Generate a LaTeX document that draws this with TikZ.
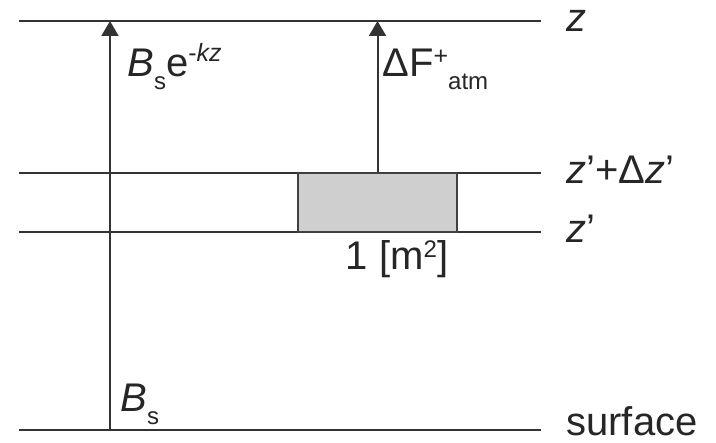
\documentclass[tikz,border=0pt]{standalone}
\usepackage{fontspec}
\setmainfont{Liberation Sans}
\usepackage{tikz}
\usetikzlibrary{arrows.meta, positioning}

\newcommand{\lowtxt}[1]{\raisebox{-6.5pt}{\fontsize{12}{12}\selectfont #1}}
\newcommand{\hightxt}[1]{\raisebox{7.5pt}{\fontsize{12.5}{12}\selectfont #1}}

\begin{document}
\begin{tikzpicture}[
        x=0.5pt, y=0.5pt,
        >={Triangle[width=8.5pt,length=7.5pt]},
        level/.style={draw=black!80, line width=1.1pt},
        flux/.style={->, draw=black!80, line width=1pt},
        lbl/.style={inner sep=0pt, font=\fontsize{20}{24}\selectfont, text=black!85},
        cell/.style={draw=black!75, line width=1.1pt, fill=black!19, minimum width=79.5pt, minimum height=29.5pt, inner sep=0pt}
    ]
    \useasboundingbox (0,0) rectangle (716,443);

    % --- Levels ---
    \coordinate (topL) at (19,422);  \coordinate (topR) at (541,422);
    \coordinate (uppL) at (19,270);  \coordinate (uppR) at (541,270);
    \coordinate (lowL) at (19,211);  \coordinate (lowR) at (541,211);
    \coordinate (srfL) at (19,13);   \coordinate (srfR) at (541,13);
    \draw[level] (topL) -- (topR);
    \draw[level] (uppL) -- (uppR);
    \draw[level] (lowL) -- (lowR);
    \draw[level] (srfL) -- (srfR);

    % --- Unit cell between z' and z'+dz' ---
    \node[cell] (cell) at (377.5,240.5) {};
    \node[lbl, anchor=base] (area) at (397,173) {1 [m\raisebox{6pt}{\fontsize{12}{12}\selectfont 2}]};

    % --- Arrows ---
    \coordinate (srfA) at (110,13);
    \coordinate (topA) at (110,422);
    \coordinate (topB) at (cell.north |- topL);
    \draw[flux] (srfA) -- (topA);
    \draw[flux] (cell.north) -- (topB);

    % --- Arrow labels ---
    \node[lbl, anchor=base west] (bsdecay) at (127,366) {\textit{B}\lowtxt{s}e\hightxt{-\textit{kz}}};
    \node[lbl, anchor=base west] (dflux) at (382,366) {ΔF\raisebox{6pt}{\fontsize{12.5}{12}\selectfont +}\lowtxt{atm}};
    \node[lbl, anchor=base west] (bs) at (120,31) {\textit{B}\lowtxt{s}};

    % --- Level labels ---
    \node[lbl, anchor=base west] (ztop) at (566,411) {\textit{z}};
    \node[lbl, anchor=base west] (zupp) at (566,259) {\textit{z}’+Δ\textit{z}’};
    \node[lbl, anchor=base west] (zlow) at (566,200) {\textit{z}’};
    \node[lbl, anchor=base west] (srf) at (566,7) {surface};
\end{tikzpicture}
\end{document}
